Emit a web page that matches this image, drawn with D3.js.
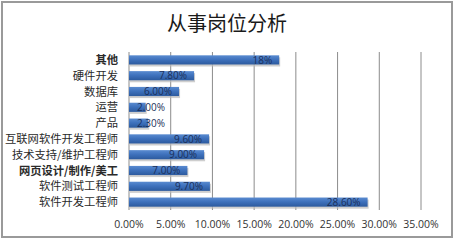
<!DOCTYPE html>
<html>
<head>
<meta charset="utf-8">
<script src="https://cdn.jsdelivr.net/npm/d3@7"></script>
<style>
  body { margin: 0; background: #fff; }
  svg { display: block; }
</style>
</head>
<body>
<div id="chart"></div>
<script>
// data, top to bottom as drawn
const categories = ["其他", "硬件开发", "数据库", "运营", "产品", "互联网软件开发工程师",
  "技术支持/维护工程师", "网页设计/制作/美工", "软件测试工程师", "软件开发工程师"];
const values = [18, 7.8, 6, 2, 2.3, 9.6, 9, 7, 9.7, 28.6];
const valueLabels = ["18%", "7.80%", "6.00%", "2.00%", "2.30%", "9.60%", "9.00%", "7.00%", "9.70%", "28.60%"];
const ticks = [0, 5, 10, 15, 20, 25, 30, 35];
const boldCats = ["其他", "网页设计/制作/美工"];

const W = 454, H = 240;
const margin = { top: 52, right: 33, bottom: 30, left: 129 };

const svg = d3.select("#chart").append("svg")
  .attr("width", W)
  .attr("height", H);

const defs = svg.append("defs");
const grad = defs.append("linearGradient")
  .attr("id", "barGrad")
  .attr("x1", 0).attr("y1", 0).attr("x2", 0).attr("y2", 1);
grad.append("stop").attr("offset", "0%").attr("stop-color", "#5a8bd0");
grad.append("stop").attr("offset", "45%").attr("stop-color", "#3f72bd");
grad.append("stop").attr("offset", "100%").attr("stop-color", "#2c5a9e");

// outer frame
svg.append("rect")
  .attr("x", 2).attr("y", 2)
  .attr("width", W - 4).attr("height", H - 5)
  .attr("fill", "#fff")
  .attr("stroke", "#9a9a9a")
  .attr("stroke-width", 2);

// title
svg.append("text")
  .attr("x", 227)
  .attr("y", 31)
  .attr("text-anchor", "middle")
  .style("font-family", "'Noto Sans CJK SC', sans-serif")
  .style("font-size", "20px")
  .style("fill", "#1a1a1a")
  .text("从事岗位分析");

const x = d3.scaleLinear()
  .domain([0, 35])
  .range([margin.left, W - margin.right]);

const y = d3.scaleBand()
  .domain(categories)
  .range([margin.top, H - margin.bottom])
  .paddingInner(0.42)
  .paddingOuter(0.21);

// gridlines
svg.append("g")
  .selectAll("line")
  .data(ticks)
  .join("line")
  .attr("x1", (d) => x(d)).attr("x2", (d) => x(d))
  .attr("y1", margin.top).attr("y2", H - margin.bottom)
  .attr("stroke", "#8c8c8c")
  .attr("stroke-width", 1);

// x tick labels
svg.append("g")
  .selectAll("text")
  .data(ticks)
  .join("text")
  .attr("x", (d) => x(d))
  .attr("y", 228)
  .attr("text-anchor", "middle")
  .style("font-family", "'Open Sans', sans-serif")
  .style("font-size", "10.5px")
  .style("fill", "#333")
  .text((d) => d.toFixed(2) + "%");

// category labels
svg.append("g")
  .selectAll("text")
  .data(categories)
  .join("text")
  .attr("x", 118)
  .attr("y", (d) => y(d) + y.bandwidth() / 2)
  .attr("dy", "0.36em")
  .attr("text-anchor", "end")
  .style("font-family", "'Noto Sans CJK SC', sans-serif")
  .style("font-size", "11.3px")
  .style("font-weight", (d) => (boldCats.includes(d) ? "bold" : "normal"))
  .style("fill", "#2a2a2a")
  .text((d) => d);

// bar shadows
svg.append("g")
  .selectAll("rect")
  .data(values)
  .join("rect")
  .attr("x", x(0) + 1)
  .attr("y", (d, i) => y(categories[i]) + 2)
  .attr("width", (d) => x(d) - x(0))
  .attr("height", y.bandwidth())
  .attr("fill", "#b9b9b9")
  .attr("opacity", 0.7);

// bars
svg.append("g")
  .selectAll("rect")
  .data(values)
  .join("rect")
  .attr("x", x(0))
  .attr("y", (d, i) => y(categories[i]))
  .attr("width", (d) => x(d) - x(0))
  .attr("height", y.bandwidth())
  .attr("fill", "url(#barGrad)");

// value labels
svg.append("g")
  .selectAll("text")
  .data(values)
  .join("text")
  .attr("x", (d, i) => {
    const w = valueLabels[i].length * 5.6;
    return Math.max(x(d) - 7, x(0) + 8 + w);
  })
  .attr("y", (d, i) => y(categories[i]) + y.bandwidth() / 2)
  .attr("dy", "0.36em")
  .attr("text-anchor", "end")
  .style("font-family", "'Open Sans', sans-serif")
  .style("font-size", "10px")
  .style("fill", "#1b2f5a")
  .text((d, i) => valueLabels[i]);
</script>
</body>
</html>
